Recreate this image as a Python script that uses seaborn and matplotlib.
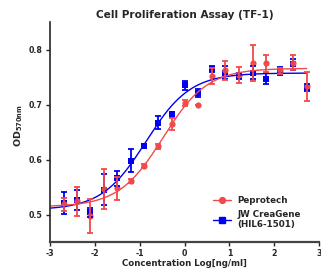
import numpy as np
import pandas as pd
import matplotlib
matplotlib.use("Agg")
import matplotlib.pyplot as plt
import seaborn as sns
from matplotlib.lines import Line2D

# log10 concentration (ng/ml)
log_conc = [-2.70, -2.40, -2.10, -1.80, -1.50, -1.20, -0.90, -0.60, -0.29, 0.01,
            0.31, 0.61, 0.91, 1.21, 1.52, 1.82, 2.12, 2.42, 2.72]

peprotech_od = [0.519, 0.524, 0.497, 0.547, 0.548, 0.561, 0.589, 0.624, 0.664, 0.703,
                0.699, 0.752, 0.762, 0.754, 0.776, 0.775, 0.761, 0.776, 0.733]
peprotech_err = [0.012, 0.026, 0.031, 0.036, 0.021, 0.003, 0.003, 0.004, 0.011, 0.005,
                 0.0, 0.015, 0.018, 0.014, 0.033, 0.015, 0.005, 0.014, 0.027]

creagene_od = [0.521, 0.526, 0.504, 0.545, 0.566, 0.598, 0.625, 0.667, 0.682, 0.735,
               0.721, 0.765, 0.758, 0.752, 0.758, 0.747, 0.761, 0.773, 0.731]
creagene_err = [0.020, 0.018, 0.008, 0.028, 0.014, 0.021, 0.004, 0.012, 0.004, 0.008,
                0.008, 0.006, 0.012, 0.006, 0.012, 0.010, 0.008, 0.010, 0.006]

series_names = ["Peprotech", "JW CreaGene\n(HIL6-1501)"]
series_colors = ["#F24A4A", "#0000F0"]


def fit_4pl(x, y):
    # brute force 4PL fit: grid over logEC50 / hill, linear lstsq for bottom/top
    x = np.asarray(x)
    y = np.asarray(y)
    best = None
    for c in np.linspace(-2.0, 1.0, 151):
        for h in np.linspace(0.4, 3.0, 66):
            s = 1.0 / (1.0 + 10 ** ((c - x) * h))
            A = np.column_stack([np.ones_like(s), s])
            coef = np.linalg.lstsq(A, y, rcond=None)[0]
            sse = np.sum((A @ coef - y) ** 2)
            if best is None or sse < best[0]:
                best = (sse, coef[0], coef[0] + coef[1], c, h)
    return best[1:]


sns.set_style("ticks")
plt.rcParams["font.family"] = ["DejaVu Sans"]
plt.rcParams["font.weight"] = "bold"
plt.rcParams["mathtext.default"] = "bf"

fig = plt.figure(figsize=(3.21, 2.69), dpi=100)
ax = fig.add_axes([0.156, 0.100, 0.838, 0.818])

x_curve = np.linspace(-3, 2.72, 300)
data = [(creagene_od, creagene_err, series_colors[1], "s"),
        (peprotech_od, peprotech_err, series_colors[0], "o")]
for od, err, col, mk in data:
    bottom, top, c, h = fit_4pl(log_conc, od)
    fit_df = pd.DataFrame({"x": x_curve,
                           "y": bottom + (top - bottom) / (1 + 10 ** ((c - x_curve) * h))})
    sns.lineplot(data=fit_df, x="x", y="y", color=col, lw=1.0, ax=ax)
    ax.errorbar(log_conc, od, yerr=err, fmt="none", ecolor=col, elinewidth=1.3,
                capsize=2.2, capthick=1.3)
    sns.scatterplot(x=log_conc, y=od, color=col, marker=mk, s=20, linewidth=0, ax=ax)

ax.set_xlim(-3, 3)
ax.set_ylim(0.45, 0.85)
ax.set_xticks([-3, -2, -1, 0, 1, 2, 3])
ax.set_yticks([0.5, 0.6, 0.7, 0.8])
ax.set_xticklabels(["-3", "-2", "-1", "0", "1", "2", "3"])
ax.set_yticklabels(["0.5", "0.6", "0.7", "0.8"])
ax.tick_params(labelsize=5.7, width=1.0, length=3, pad=2.5)
ax.tick_params(axis="x", pad=2)
for lab in ax.get_xticklabels() + ax.get_yticklabels():
    lab.set_fontweight("bold")
sns.despine(ax=ax)
ax.spines["left"].set_linewidth(1.2)
ax.spines["bottom"].set_linewidth(1.6)
ax.spines["bottom"].set_color("#444444")

ax.set_title("Cell Proliferation Assay (TF-1)", fontsize=7.6, fontweight="bold", pad=3)
ax.set_xlabel("Concentration Log[ng/ml]", fontsize=6.2, fontweight="bold", labelpad=1)
ax.set_ylabel(r"OD$_{570nm}$", fontsize=6.8, fontweight="bold")
ax.yaxis.set_label_coords(-0.095, 0.53)

handles = [Line2D([], [], color=series_colors[0], marker="o", markersize=4.2, lw=1.0),
           Line2D([], [], color=series_colors[1], marker="s", markersize=4.2, lw=1.0)]
leg = ax.legend(handles, series_names, loc="upper left", bbox_to_anchor=(0.606, 0.21),
                frameon=False, fontsize=6.3, handlelength=2.0, labelspacing=0.55,
                handletextpad=0.8, borderpad=0, borderaxespad=0)
for t in leg.get_texts():
    t.set_fontweight("bold")

fig.savefig("out.png", dpi=100)
